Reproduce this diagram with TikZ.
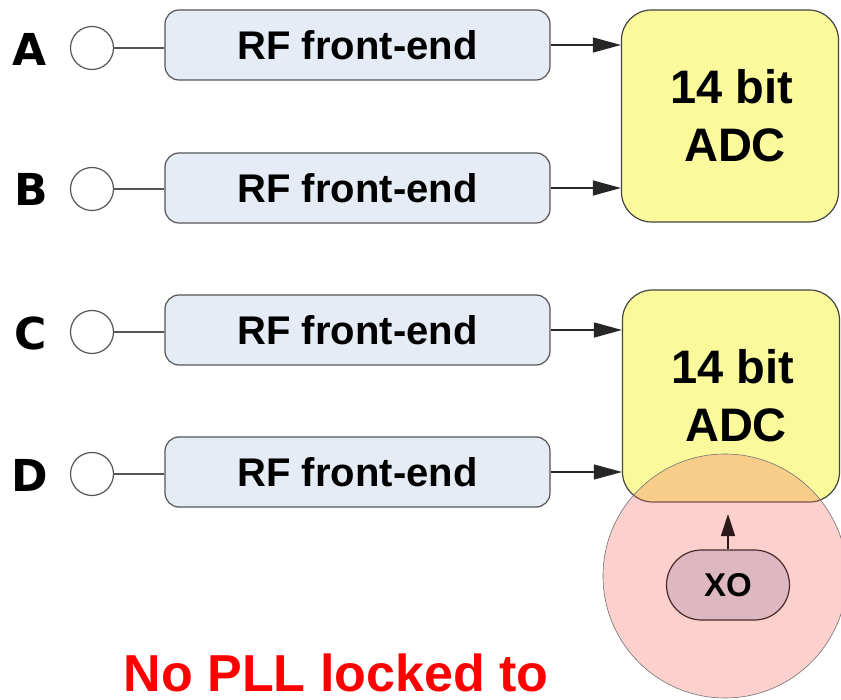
\documentclass[tikz,border=0pt]{standalone}
\usepackage{fontspec}
\setmainfont{Liberation Sans}
\newfontfamily\dejavu{DejaVu Sans}
\usetikzlibrary{arrows.meta}
\definecolor{rffill}{HTML}{E6ECF6}
\definecolor{adcfill}{HTML}{FAFA9C}
\definecolor{bordergray}{HTML}{555555}
\definecolor{xofill}{HTML}{DDB8C1}
\definecolor{xoborder}{HTML}{4A2A2A}
\definecolor{pinkc}{RGB}{245,110,100}
\begin{document}
\begin{tikzpicture}[x=1pt,y=-1pt,
  rfbox/.style={draw=bordergray,line width=1.2pt,fill=rffill,rounded corners=14pt,
    minimum width=385pt,minimum height=70pt,inner sep=0pt,
    font=\fontsize{40}{48}\selectfont\bfseries},
  adcbox/.style={draw=bordergray!80!black,line width=1.2pt,fill=adcfill,rounded corners=30pt,
    minimum width=217pt,minimum height=212pt,inner sep=0pt,align=center,
    font=\fontsize{47}{60}\selectfont\bfseries},
  port/.style={circle,draw=bordergray,line width=1.2pt,fill=white,minimum size=43pt,inner sep=0pt},
  chlabel/.style={font=\fontsize{44}{50}\selectfont\dejavu\bfseries,inner sep=0pt},
  wire/.style={draw=bordergray,line width=1.3pt},
  sig/.style={draw=black!85,line width=1.3pt,-{Triangle[length=28pt,width=15pt]}},
  xobox/.style={draw=xoborder,line width=1.2pt,fill=xofill,rounded corners=35pt,
    minimum width=123pt,minimum height=70pt,inner sep=0pt,
    font=\fontsize{33}{36}\selectfont\bfseries},
  note/.style={text=red,font=\fontsize{52}{60}\selectfont\bfseries,inner sep=0pt,
    text depth=0pt,anchor=base}
]
\useasboundingbox (0,0) rectangle (841,700);
\clip (0,0) rectangle (841,700);
\fill[white] (0,0) rectangle (841,700);

% channel labels
\node[chlabel] (lA) at (30,49) {A};
\node[chlabel] (lB) at (31,189) {B};
\node[chlabel] (lC) at (31,333) {C};
\node[chlabel] (lD) at (30,475) {D};

% ports
\node[port] (pA) at (92,48) {};
\node[port] (pB) at (92,189) {};
\node[port] (pC) at (92,332) {};
\node[port] (pD) at (92,474) {};

% RF front-ends
\node[rfbox] (rA) at (357.5,45) {RF front-end};
\node[rfbox] (rB) at (357.5,188) {RF front-end};
\node[rfbox] (rC) at (357.5,330) {RF front-end};
\node[rfbox] (rD) at (357.5,472) {RF front-end};

\draw[wire] (pA.east) -- (pA.east -| rA.west);
\draw[wire] (pB.east) -- (pB.east -| rB.west);
\draw[wire] (pC.east) -- (pC.east -| rC.west);
\draw[wire] (pD.east) -- (pD.east -| rD.west);

% ADCs
\node[adcbox] (adc1) at (730,116) {\hspace*{4pt}14 bit\\[-2pt]\hspace*{10pt}ADC};
\node[adcbox] (adc2) at (731,396) {\hspace*{4pt}14 bit\\[-2pt]\hspace*{10pt}ADC};

\draw[sig] (rA.east) -- (rA.east -| adc1.west);
\draw[sig] (rB.east) -- (rB.east -| adc1.west);
\draw[sig] (rC.east) -- (rC.east -| adc2.west);
\draw[sig] (rD.east) -- (rD.east -| adc2.west);

% clock domain circle
\node[circle,draw=black!55,line width=0.6pt,fill=pinkc,fill opacity=0.32,draw opacity=1,
  minimum size=244pt,inner sep=0pt] (dom) at (725,576) {};

% XO
\node[xobox] (xo) at (728,585) {XO};
\coordinate (xotip) at (728,514);
\draw[draw=xoborder!60!black,line width=1.3pt,-{Triangle[length=22pt,width=14pt]}] (xo.north) -- (xotip);

% note
\node[note] (nt) at (336,691) {No PLL locked to};
\end{tikzpicture}
\end{document}
